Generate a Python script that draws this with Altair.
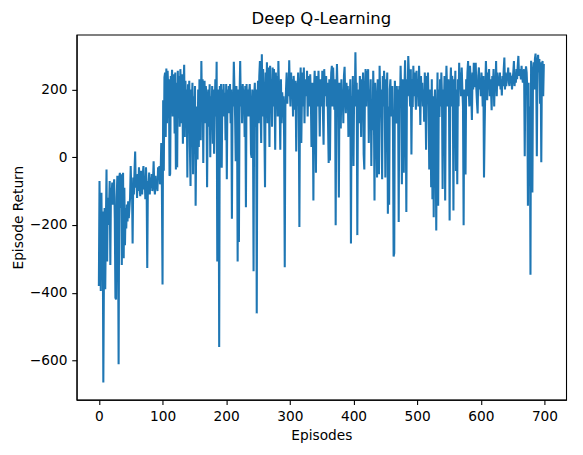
import altair as alt
import pandas as pd

# Episode returns (10 episodes per row)
returns = [
    -380, -70, -230, -395, -105, -290, -160, -665, -330, -150,
    -390, -200, -36, -308, -120, -200, -150, -70, -318, -90,
    -110, -75, -140, -100, -65, -180, -415, -420, -120, -55,
    -160, -611, -60, -46, -150, -50, -318, -130, -46, -298,
    -90, -260, -150, -210, -140, -190, -130, -180, -150, -120,
    -26, -100, -80, -255, -60, -110, -40, 17, -90, -60,
    -120, -50, -100, -30, -90, -115, -40, -80, -110, -50,
    -26, -95, -60, -124, -30, -80, -327, -70, -100, -45,
    -110, -60, -90, -50, -100, -70, -12, -80, -110, -55,
    -95, -65, -100, -30, -60, -26, -80, -50, 42, -90,
    -376, 168, -40, 236, 250, 60, 262, 100, 255, 190,
    230, -55, -50, 240, 200, 258, 120, 245, 210, 70,
    250, -36, 220, -30, 255, 150, 240, 90, 260, 200,
    100, 245, 40, 215, 273, 60, 226, 140, 200, -60,
    215, 100, 226, 30, -85, 200, 150, 220, -50, 180,
    100, 210, -143, 60, 150, -7, 200, 30, 230, 120,
    50, 284, 140, 230, -17, 200, 226, 100, 210, 180,
    -89, 150, 200, 90, 215, 0, 180, 130, 210, 40,
    200, 10, 150, 230, 120, 282, -308, 200, 150, -560,
    210, 180, 216, -31, 200, 150, 216, 120, 190, 50,
    216, -65, 200, 160, 210, 130, 216, 100, 200, -182,
    180, 150, 282, 200, 120, -12, 210, 160, -308, 200,
    -250, 180, 284, 150, 210, 100, 216, 170, 200, 60,
    210, -148, 216, 150, 200, 120, 190, 216, 160, 10,
    -2, 200, 150, -337, 180, 220, 90, 200, -461, 150,
    226, 100, 240, 284, 150, 42, 304, 120, 260, 200,
    80, -89, 250, 150, 280, 100, 265, 200, 30, 270,
    180, 230, 90, 265, 150, 260, 200, 22, 250, 180,
    240, 120, 284, 200, 150, 22, 230, 100, 192, 150,
    180, 60, -325, 150, 200, 250, 158, 230, 180, 286,
    200, 150, 250, 180, 230, 120, 240, 200, 140, 226,
    17, 220, 180, 250, 150, -206, 200, 265, 42, 180,
    250, 150, 265, 100, 230, 200, 180, 255, 120, 240,
    200, 150, 245, 180, 30, 220, 150, -128, 200, 255,
    160, -46, 240, 200, 150, 255, 180, 61, 230, 200,
    150, 255, 130, 37, 260, 200, 180, 240, 150, 220,
    100, -17, 230, -10, 180, 250, 270, 150, 265, 200,
    140, 230, -201, 180, 275, 200, 150, -119, 220, 180,
    85, 230, 150, 200, 100, 240, 267, 180, 130, 220,
    160, 210, 60, 200, 150, 230, -255, 180, 130, 240,
    -26, 200, 150, 310, 180, 220, -230, 160, 200, 100,
    240, 170, 60, 230, 180, 250, 8, -36, 200, 260,
    150, 255, 180, 260, 42, 200, 150, 230, -26, 170,
    80, 255, 150, -128, 220, 180, 100, -60, 230, 150,
    -50, 270, 180, 200, 100, -65, 240, 150, 255, 200,
    -60, 230, 180, 250, -167, 150, -140, 200, 230, 120,
    170, 210, 80, -293, -283, 226, 150, 100, 210, 120,
    200, -191, 210, 150, 270, 180, -80, 230, 150, -46,
    200, 286, 150, -162, 230, 180, 299, 250, 200, 150,
    260, 8, 230, 148, 270, 180, 250, 200, 140, 255,
    180, 230, 150, 270, 200, 95, 240, 180, 220, 150,
    200, 105, 250, 180, 22, 240, 200, 250, 150, -36,
    200, 150, -89, 230, -124, 180, -177, 150, 200, 60,
    -216, 100, 250, -143, 200, 119, 230, 150, 250, 180,
    -94, 200, 150, 240, -128, 180, 270, 200, 150, 230,
    180, -187, 200, 265, 150, 240, 200, -157, 230, 180,
    255, -41, 200, -80, 230, 150, 279, 200, 250, 180,
    265, 200, 150, -201, 200, 120, -51, 230, 180, 250,
    284, 200, 150, 270, 230, 180, 110, 250, 200, 279,
    207, 250, 279, 200, 160, 129, 240, 265, 200, 230,
    180, 250, 220, 150, 240, -60, 85, 200, 284, 230,
    168, 250, 200, 260, 180, 230, 200, 139, 240, 200,
    260, 150, 230, 200, 284, 180, 250, 220, 230, 210,
    250, 200, 230, 182, 240, 210, 260, 294, 200, 250,
    210, 240, 230, 265, 220, 210, 250, 230, 240, 200,
    230, 250, 284, 210, 240, 220, 260, 230, 270, 299,
    240, 260, 250, 230, 270, 240, 220, 250, 260, 3,
    240, 268, 250, 200, -143, 220, -85, 150, -347, 285,
    200, -104, 250, 280, 200, 290, 306, 250, 3, 280,
    302, 250, 290, 158, 280, -15, 270, 284, 180, 275,
]
episodes = list(range(len(returns)))

x_ticks = [0, 100, 200, 300, 400, 500, 600, 700]
y_ticks = [-600, -400, -200, 0, 200]

df = pd.DataFrame({"episode": episodes, "ret": returns})

FONT = "DejaVu Sans"

axis_common = dict(
    grid=False,
    domainColor="black",
    domainWidth=1.1,
    tickColor="black",
    tickWidth=1.1,
    tickSize=4.9,
    labelPadding=4.9,
    labelFont=FONT,
    labelFontSize=13.9,
    labelColor="black",
    titleFont=FONT,
    titleFontSize=13.9,
    titleFontWeight="normal",
    titleColor="black",
)

chart = (
    alt.Chart(df)
    .mark_line(color="#1f77b4", strokeWidth=2.1)
    .encode(
        x=alt.X(
            "episode:Q",
            scale=alt.Scale(domain=[-35, 734], nice=False, zero=False),
            axis=alt.Axis(values=x_ticks, title="Episodes", titlePadding=6, **axis_common),
        ),
        y=alt.Y(
            "ret:Q",
            scale=alt.Scale(domain=[-716, 362], nice=False, zero=False),
            axis=alt.Axis(values=y_ticks, title="Episode Return", titlePadding=4, **axis_common),
        ),
    )
    .properties(
        width=496,
        height=370,
        autosize=alt.AutoSizeParams(type="none"),
        padding={"left": 69.5, "top": 24, "right": 9, "bottom": 50},
        title=alt.Title(
            "Deep Q-Learning",
            font=FONT,
            fontSize=16.7,
            fontWeight="normal",
            color="black",
            anchor="middle",
            offset=7,
        ),
    )
    .configure_view(stroke="black", strokeWidth=1.1)
)

chart.save("out.html", embed_options={"renderer": "svg", "actions": False})
